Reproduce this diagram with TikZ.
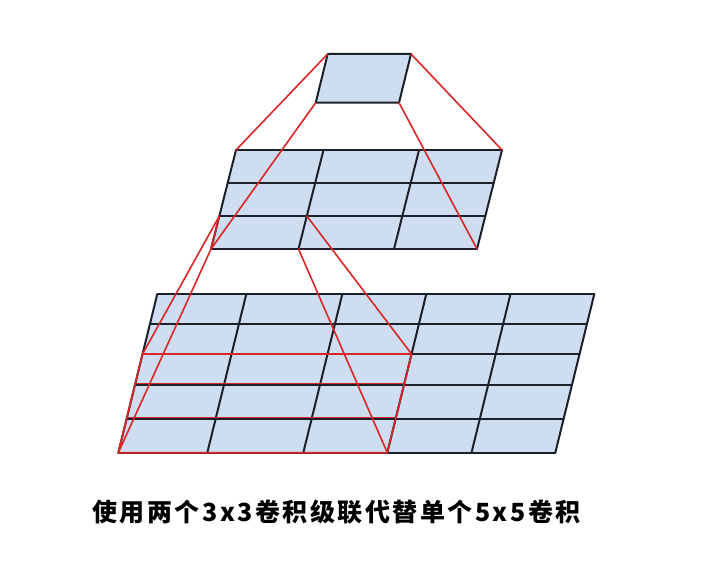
\documentclass[tikz,border=0pt]{standalone}
\usepackage{fontspec}
\newfontfamily\cjk{Noto Sans CJK SC}
\definecolor{cellfill}{RGB}{206,222,240}
\definecolor{gridline}{RGB}{28,32,42}
\definecolor{redline}{RGB}{218,38,38}
\begin{document}
\begin{tikzpicture}[x=1pt,y=-1pt,
  gridstyle/.style={draw=gridline,line width=2pt,line cap=round},
  cellstyle/.style={fill=cellfill},
  redstyle/.style={draw=redline,line width=1.6pt,line cap=round,line join=round},
  caption/.style={font=\cjk\bfseries\fontsize{25}{30}\selectfont\addfontfeature{LetterSpace=10},inner sep=0pt}]
\useasboundingbox (0,0) rectangle (720,580);

% bottom grid 5x5
\begin{scope}[shift={(157.3,294)},xslant=0.2457]
  \fill[cellstyle] (0,0) rectangle (437,158.7);
  \foreach \r in {0,30,60,91,125,158.7} \draw[gridstyle] (0,\r) -- (437,\r);
  \foreach \c in {0,89,185,269,353.2,437} \draw[gridstyle] (\c,0) -- (\c,158.7);
  \draw[redstyle] (0,60) rectangle (269,158.7);
  \draw[redstyle] (0,89.6) -- (269,89.6);
  \draw[redstyle] (0,123.6) -- (269,123.6);
  \coordinate (B1) at (0,60);
  \coordinate (B2) at (269,60);
  \coordinate (B3) at (0,158.7);
  \coordinate (B4) at (269,158.7);
\end{scope}

% middle grid 3x3
\begin{scope}[shift={(236,150)},xslant=0.2525]
  \fill[cellstyle] (0,0) rectangle (266,99);
  \foreach \r in {0,33,66,99} \draw[gridstyle] (0,\r) -- (266,\r);
  \foreach \c in {0,87.5,183,266} \draw[gridstyle] (\c,0) -- (\c,99);
  \coordinate (M1) at (0,0);
  \coordinate (M2) at (266,0);
  \coordinate (M3) at (0,99);
  \coordinate (M4) at (266,99);
  \coordinate (M5) at (0,66);
  \coordinate (M6) at (87.5,66);
  \coordinate (M7) at (87.5,99);
\end{scope}

% top single cell
\begin{scope}[shift={(327.7,54)},xslant=0.246]
  \fill[cellstyle] (0,0) rectangle (83.3,48.7);
  \draw[gridstyle,line join=round] (0,0) rectangle (83.3,48.7);
  \coordinate (T1) at (0,0);
  \coordinate (T2) at (83.3,0);
  \coordinate (T3) at (0,48.7);
  \coordinate (T4) at (83.3,48.7);
\end{scope}

% red connectors
\draw[redstyle] (T1) -- (M1);
\draw[redstyle] (T2) -- (M2);
\draw[redstyle] (T3) -- (M3);
\draw[redstyle] (T4) -- (M4);
\draw[redstyle] (M5) -- (B1);
\draw[redstyle] (M3) -- (B3);
\draw[redstyle] (M6) -- (B2);
\draw[redstyle] (M7) -- (B4);
\draw[redstyle] (M5) -- (M3);

\node[caption] (cap) at (336.5,512.5) {使用两个3x3卷积级联代替单个5x5卷积};
\end{tikzpicture}
\end{document}
